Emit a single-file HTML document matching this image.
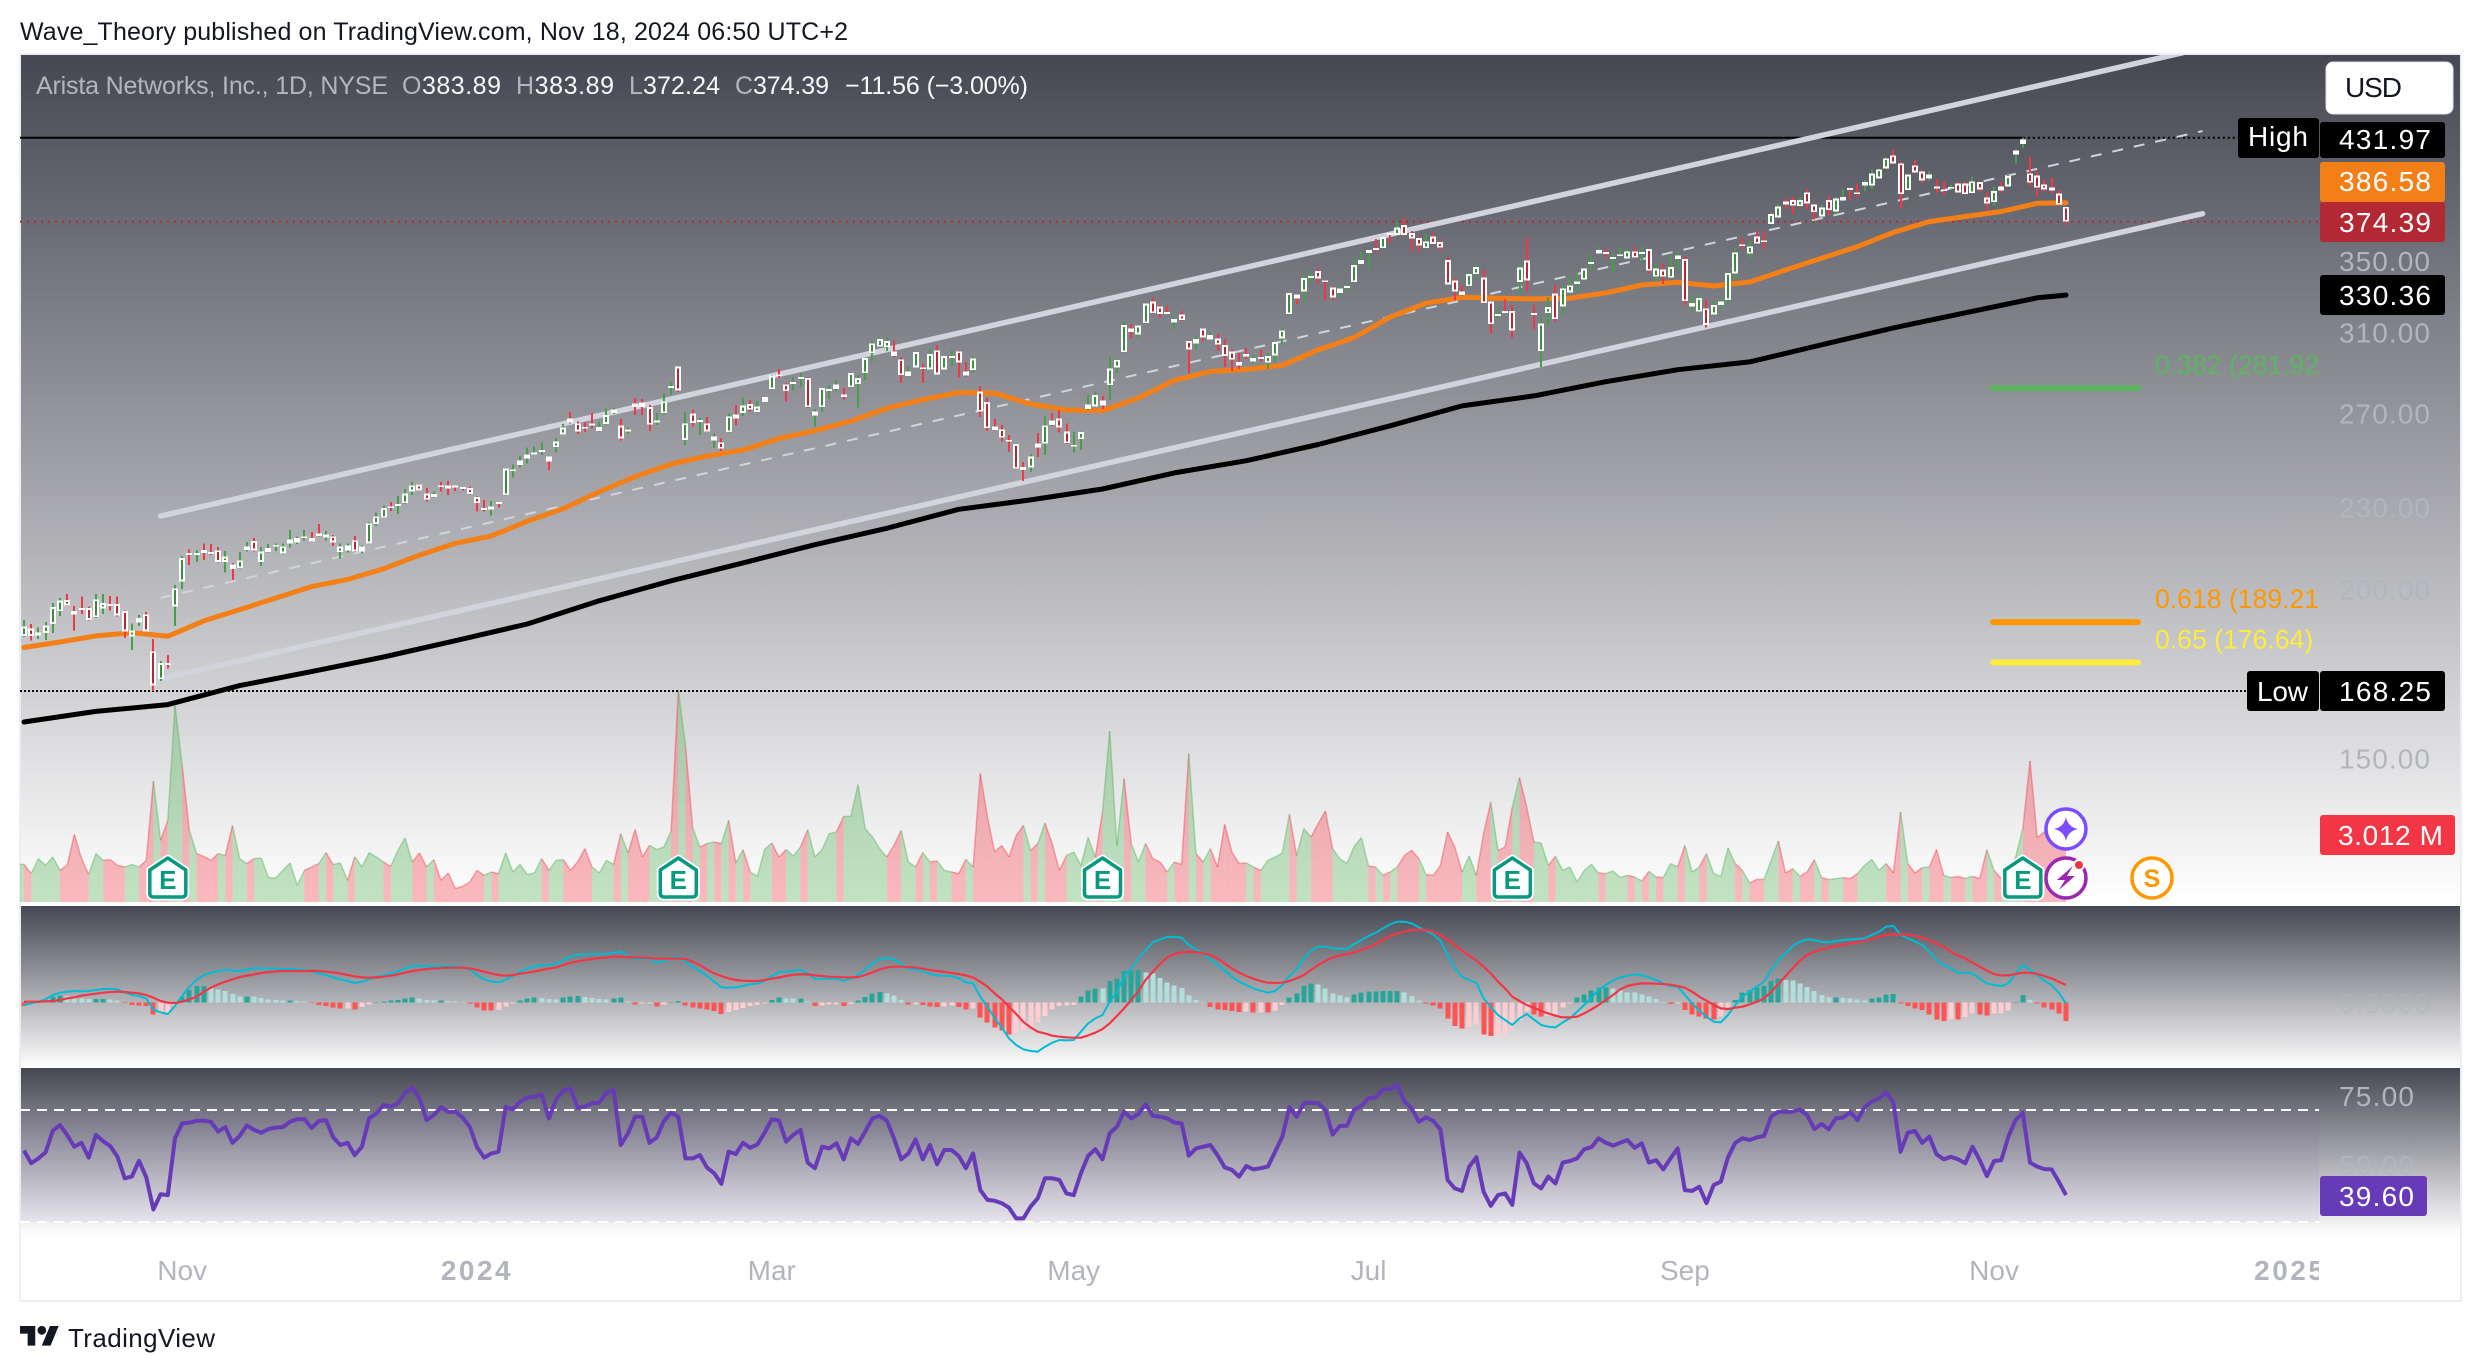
<!DOCTYPE html>
<html lang="en">
<head>
<meta charset="utf-8">
<title>Arista Networks chart by Wave_Theory</title>
<style>
html,body{margin:0;padding:0;background:#fff;width:2482px;height:1372px;overflow:hidden}
svg{display:block}
text{font-family:"Liberation Sans",sans-serif}
.ax{font-size:28px;fill:#b2b5be}
.lb{font-size:28px;fill:#fff}
.leg{font-size:25px}
.tm{font-size:28px;fill:#b2b5be}
.fib{font-size:26.6px}
</style>
</head>
<body>
<svg id="chart" xmlns="http://www.w3.org/2000/svg" width="2482" height="1372" viewBox="0 0 2482 1372">
<defs>
<linearGradient id="gp" x1="0" y1="0" x2="0" y2="1"><stop offset="0" stop-color="#454752"/><stop offset="1" stop-color="#ffffff"/></linearGradient>
<clipPath id="clipPrice"><rect x="20" y="55" width="2299" height="847"/></clipPath>
<clipPath id="clipMacd"><rect x="20" y="906" width="2299" height="162"/></clipPath>
<clipPath id="clipRsi"><rect x="20" y="1068" width="2299" height="168"/></clipPath>
<clipPath id="clipTime"><rect x="20" y="1240" width="2299" height="60"/></clipPath>
</defs>

<text x="20" y="40" font-size="25" fill="#131722" textLength="828" lengthAdjust="spacing">Wave_Theory published on TradingView.com, Nov 18, 2024 06:50 UTC+2</text>

<rect x="20" y="55" width="2441" height="847" fill="url(#gp)"/>
<rect x="20" y="906" width="2441" height="162" fill="url(#gp)"/>
<rect x="20" y="1068" width="2441" height="168" fill="url(#gp)"/>
<rect x="20" y="1110" width="2299" height="112" fill="rgba(126,87,194,0.08)"/>
<rect x="20" y="54" width="2441" height="1247" fill="none" stroke="#eceef4" stroke-width="2"/>

<g id="volumeLayer" clip-path="url(#clipPrice)"></g>
<g id="priceLayer" clip-path="url(#clipPrice)"></g>
<g id="macdLayer" clip-path="url(#clipMacd)"></g>
<g id="rsiLayer" clip-path="url(#clipRsi)"></g>
<g id="flagLayer"></g>

<g>
<text class="leg" x="36" y="94" fill="#b4b6be" textLength="352" lengthAdjust="spacing">Arista Networks, Inc., 1D, NYSE</text>
<text class="leg" x="402" y="94" fill="#f8f8f8" textLength="99" lengthAdjust="spacing"><tspan fill="#b4b6be">O</tspan>383.89</text>
<text class="leg" x="516" y="94" fill="#f8f8f8" textLength="98" lengthAdjust="spacing"><tspan fill="#b4b6be">H</tspan>383.89</text>
<text class="leg" x="629" y="94" fill="#f8f8f8" textLength="91" lengthAdjust="spacing"><tspan fill="#b4b6be">L</tspan>372.24</text>
<text class="leg" x="735" y="94" fill="#f8f8f8" textLength="94" lengthAdjust="spacing"><tspan fill="#b4b6be">C</tspan>374.39</text>
<text class="leg" x="845" y="94" fill="#f8f8f8" textLength="183" lengthAdjust="spacing">−11.56 (−3.00%)</text>
</g>

<g id="axisLayer"></g>

<g>
<rect x="2326" y="62" width="127" height="52" rx="7" fill="#ffffff" stroke="#e0e3eb"/>
<text x="2345" y="97" font-size="28" fill="#131722" textLength="57" lengthAdjust="spacing">USD</text>
</g>

<g>
<rect x="2238" y="118" width="81" height="40" rx="3" fill="#000"/>
<text class="lb" x="2248" y="146" textLength="60" lengthAdjust="spacing">High</text>
<rect x="2320" y="122" width="125" height="36" rx="3" fill="#000"/>
<text class="lb" x="2339" y="149" textLength="92" lengthAdjust="spacing">431.97</text>
</g>
<g>
<rect x="2320" y="162" width="125" height="40" rx="3" fill="#f57f17"/>
<text class="lb" x="2339" y="191" textLength="92" lengthAdjust="spacing">386.58</text>
</g>
<g>
<rect x="2320" y="202" width="125" height="40" rx="3" fill="#b22833"/>
<text class="lb" x="2339" y="232" textLength="92" lengthAdjust="spacing">374.39</text>
</g>
<g>
<rect x="2320" y="275" width="125" height="40" rx="3" fill="#000"/>
<text class="lb" x="2339" y="305" textLength="92" lengthAdjust="spacing">330.36</text>
</g>
<g>
<rect x="2247" y="671" width="72" height="40" rx="3" fill="#000"/>
<text class="lb" x="2257" y="701" textLength="51" lengthAdjust="spacing">Low</text>
<rect x="2320" y="671" width="125" height="40" rx="3" fill="#000"/>
<text class="lb" x="2339" y="701" textLength="92" lengthAdjust="spacing">168.25</text>
</g>
<g>
<rect x="2320" y="815" width="135" height="40" rx="3" fill="#f23645"/>
<text class="lb" x="2338" y="845" textLength="105" lengthAdjust="spacing">3.012 M</text>
</g>
<text class="ax" x="2339" y="1013" opacity="0.6" textLength="91" lengthAdjust="spacing">0.0000</text>
<text class="ax" x="2339" y="1106" textLength="75" lengthAdjust="spacing">75.00</text>
<text class="ax" x="2339" y="1175" textLength="75" lengthAdjust="spacing">50.00</text>
<g>
<rect x="2320" y="1176" width="107" height="40" rx="3" fill="#673ab7"/>
<text class="lb" x="2339" y="1206" textLength="75" lengthAdjust="spacing">39.60</text>
</g>

<g id="timeLayer" clip-path="url(#clipTime)"></g>

<g>
<path transform="translate(20,1321.6) scale(1.09)" fill="#131722" d="M14 22H7V11H0V4h14v18zM28 22h-8l7.5-18h8L28 22z"/>
<circle cx="41.8" cy="1330.3" r="4.4" fill="#131722"/>
<text x="68" y="1347" font-size="26" fill="#131722" textLength="147" lengthAdjust="spacing">TradingView</text>
</g>
</svg>

<script>
const opens = [184.8,187.1,185.0,185.8,188.6,192.8,196.4,192.8,193.8,193.8,190.8,193.7,195.1,195.1,192.8,184.7,189.1,191.7,180.0,171.7,176.4,194.3,202.8,212.8,212.3,213.9,213.2,213.8,209.7,208.7,207.4,213.9,217.2,209.6,213.3,215.3,212.7,216.4,216.7,218.5,218.3,220.1,218.5,219.0,213.2,213.8,217.5,213.4,216.4,223.7,226.1,230.5,230.8,231.7,236.4,239.2,235.5,234.1,238.9,238.9,238.8,238.1,237.7,234.1,229.8,229.3,232.2,234.9,245.0,247.4,250.0,252.0,253.1,250.8,254.9,260.6,267.8,265.5,263.9,265.4,262.1,265.2,270.1,264.5,262.1,274.6,275.1,273.0,266.1,270.1,282.2,292.5,258.1,269.9,266.3,265.5,257.9,257.0,261.5,269.5,270.2,274.3,270.7,275.3,281.4,288.6,283.7,284.1,286.5,286.7,269.0,272.9,280.8,281.6,278.9,282.4,283.8,289.2,299.2,302.6,302.3,300.1,296.1,287.7,292.1,292.1,291.0,300.7,291.1,297.2,300.1,290.0,290.7,280.3,275.3,264.0,262.8,258.1,256.2,246.5,246.3,256.5,256.5,266.8,267.7,261.8,255.3,258.4,272.0,273.2,276.0,283.3,292.1,299.7,312.0,309.0,314.9,326.7,324.0,320.9,315.3,319.6,305.4,304.3,312.0,306.2,306.8,303.3,300.0,294.8,298.8,295.1,297.2,294.4,298.1,306.8,319.8,330.8,332.5,340.4,344.1,338.8,334.6,331.4,334.6,337.7,348.2,354.8,357.8,357.8,367.1,366.1,372.2,367.1,364.0,357.8,365.0,361.5,350.6,338.6,332.4,335.4,342.3,340.4,326.7,319.0,321.4,321.4,337.9,350.4,320.3,300.2,320.3,331.2,324.1,331.8,336.7,339.1,348.6,354.5,355.5,351.7,353.3,351.7,355.9,354.7,357.2,340.9,345.0,340.3,351.2,351.2,324.0,321.2,323.0,319.6,324.7,327.5,342.7,360.2,354.5,364.9,362.6,372.9,377.2,387.6,388.3,384.4,393.6,385.4,377.7,388.3,380.9,388.1,396.5,393.6,398.1,398.3,403.1,410.0,419.2,413.5,395.0,412.1,407.7,402.9,397.6,395.6,396.3,399.5,399.5,393.0,400.4,390.1,387.0,397.4,397.6,419.7,427.2,406.5,404.9,399.0,396.9,392.7,383.89];
const highs = [189.9,188.6,187.5,189.3,195.4,197.1,198.5,194.5,197.6,194.3,198.5,198.5,197.8,197.6,193.0,188.8,191.5,192.5,183.9,177.0,178.9,201.5,211.8,214.2,214.0,216.4,216.2,215.1,213.5,209.2,213.2,216.8,218.4,215.0,216.1,216.4,216.4,221.4,218.9,221.4,220.6,223.7,221.0,219.5,216.4,216.3,219.1,215.7,224.2,228.1,230.9,232.2,234.5,237.3,240.2,239.4,237.7,236.4,240.2,240.7,238.8,238.1,238.4,234.3,233.0,232.5,232.2,245.8,247.6,251.4,254.7,255.2,257.0,250.8,258.9,265.2,270.7,266.3,266.0,270.1,266.3,272.4,272.7,267.5,263.6,277.3,276.7,274.0,270.1,279.2,284.9,292.6,270.7,271.6,268.0,268.4,260.9,258.9,269.9,274.0,277.3,276.2,275.9,277.6,288.3,291.3,284.3,287.2,289.2,287.2,272.1,281.9,283.5,285.9,281.9,289.2,288.3,296.7,305.5,307.4,307.4,305.5,297.2,292.8,299.7,293.8,301.2,303.4,297.8,300.9,300.2,294.8,297.8,283.0,277.4,267.5,264.8,260.2,256.2,248.6,252.0,261.2,268.7,270.1,271.6,265.5,261.8,261.8,278.6,280.4,278.1,297.2,296.1,315.8,314.4,313.8,326.2,329.1,324.9,324.3,318.5,321.6,305.7,308.5,312.4,310.1,309.2,306.4,301.2,299.4,301.9,298.3,301.2,299.2,305.0,312.2,331.8,331.0,341.9,344.1,345.9,339.0,335.2,335.6,337.1,351.4,355.4,356.8,363.4,364.6,367.1,374.3,376.8,368.6,365.0,366.5,367.1,363.4,352.4,340.2,336.0,343.5,348.8,344.9,326.7,323.2,328.2,324.7,349.6,364.2,324.7,317.8,329.1,336.0,336.1,340.5,342.9,345.8,353.7,358.6,357.2,354.7,357.8,357.2,358.6,358.8,357.6,348.2,348.2,353.7,355.7,353.1,330.3,330.4,328.0,326.7,329.1,344.2,357.8,364.1,362.0,368.3,368.3,380.5,385.9,389.6,390.3,390.3,395.6,386.3,385.2,391.2,390.3,395.6,396.5,399.2,402.0,409.3,410.0,417.8,423.0,414.7,405.8,415.9,408.8,408.1,402.4,401.3,398.5,400.4,400.4,404.0,401.0,393.6,397.2,400.6,405.4,423.5,431.97,418.0,407.7,402.0,403.8,395.2,383.89];
const lows = [184.4,183.4,183.9,183.5,185.8,191.2,194.5,186.5,191.9,189.7,190.6,191.9,193.0,191.0,184.1,180.4,188.0,186.0,168.25,171.1,174.8,188.0,200.2,208.6,209.7,210.4,212.1,209.4,205.9,203.3,207.3,213.4,213.4,208.2,213.0,213.6,212.3,214.8,216.2,217.4,216.9,218.9,217.4,215.5,210.9,213.0,213.3,212.6,216.2,222.9,225.9,228.6,227.5,231.4,235.0,236.5,232.4,234.0,236.4,235.0,236.6,236.8,235.1,228.5,228.5,226.9,230.0,234.7,242.1,246.2,247.9,251.6,251.6,245.2,252.6,260.3,265.5,260.7,261.6,263.1,261.8,264.9,269.8,257.8,260.7,269.3,269.3,262.1,264.8,269.3,278.7,280.0,255.9,264.0,260.3,261.6,254.6,253.3,261.3,264.5,268.9,270.8,270.4,275.1,281.3,286.9,275.6,280.6,282.5,272.6,264.0,270.7,276.7,280.3,276.4,281.9,272.7,285.9,295.3,302.4,300.4,297.3,284.5,287.5,292.0,284.5,290.8,288.5,291.0,293.1,287.0,287.3,289.4,268.4,262.1,262.2,257.3,252.9,245.6,240.6,244.4,250.7,251.6,264.3,261.3,256.4,252.6,253.8,271.6,272.9,272.0,276.3,289.2,299.5,306.7,307.4,314.7,320.1,317.8,319.9,311.8,316.2,289.1,301.2,305.4,305.9,300.4,292.3,290.3,291.3,296.3,294.1,295.0,291.3,295.1,303.5,319.6,325.5,326.2,338.1,336.9,327.3,327.3,329.5,332.7,337.5,348.0,344.9,355.0,357.6,361.3,365.5,365.9,356.2,355.8,357.6,360.1,356.2,336.3,327.3,329.9,335.2,340.4,325.5,309.4,317.1,320.3,307.3,331.0,332.4,311.5,292.3,313.6,315.8,320.1,331.6,332.3,338.7,345.2,354.1,352.3,343.2,352.1,351.5,351.7,350.1,342.9,337.8,336.7,339.9,344.8,324.9,321.6,320.8,312.7,319.4,322.7,324.5,339.6,357.4,351.4,360.4,357.4,372.7,377.0,382.6,379.4,384.1,382.2,375.9,377.4,378.7,379.4,387.9,388.5,390.3,394.5,395.8,402.9,409.5,413.3,382.8,394.8,406.5,399.7,401.3,393.2,391.9,395.6,393.2,392.1,392.7,393.8,382.0,384.6,393.4,397.4,413.0,424.5,397.9,390.5,393.8,392.5,385.0,372.24];
const closes = [187.8,184.8,185.9,188.1,194.1,196.3,194.7,191.7,193.3,189.9,196.7,195.4,194.6,191.4,186.2,186.5,190.6,186.2,169.9,176.4,175.8,200.4,211.0,212.3,212.8,212.8,212.7,209.6,211.6,207.1,210.2,215.2,213.8,213.4,214.6,215.8,215.3,217.8,218.3,219.0,217.1,219.1,219.7,216.7,215.2,215.6,213.4,215.2,223.9,226.6,229.8,230.1,231.3,235.5,238.9,236.8,233.1,235.4,238.4,237.6,238.2,237.6,235.4,231.7,229.3,230.5,231.7,245.8,245.5,249.3,251.7,252.6,253.7,248.8,257.3,263.6,265.8,261.9,263.3,264.8,263.9,269.3,271.8,258.8,262.7,273.0,272.9,264.9,266.7,275.6,282.9,280.8,265.5,265.7,266.9,261.9,259.7,254.3,268.7,267.8,273.6,271.8,273.2,277.6,288.0,288.0,280.5,284.8,287.2,272.9,270.8,281.9,281.4,283.7,277.6,289.2,286.7,296.7,304.3,306.4,305.4,297.7,288.2,290.0,299.7,291.5,298.7,288.6,297.7,297.8,294.6,288.0,296.5,270.8,263.3,262.5,259.1,257.5,245.8,245.3,250.8,254.7,264.6,264.8,263.7,256.7,255.9,261.6,274.1,278.6,273.8,291.5,295.8,313.8,310.1,313.6,325.6,320.3,319.9,320.1,317.1,316.5,301.1,306.4,307.4,308.5,303.6,297.8,295.9,293.1,297.5,296.8,296.5,297.7,304.9,311.1,331.4,328.4,340.0,341.2,339.8,338.1,329.1,334.1,335.4,347.6,350.6,356.8,357.0,364.6,366.3,370.7,366.1,363.8,359.6,362.0,360.5,358.2,336.5,332.5,330.3,342.3,346.4,325.8,314.4,319.8,320.7,311.1,346.2,338.8,319.6,314.7,323.6,317.1,334.2,335.9,338.2,345.6,349.4,356.7,354.7,352.5,354.1,355.9,352.1,355.5,344.4,345.6,340.9,346.4,353.5,326.9,326.0,328.6,314.0,324.7,326.7,342.9,355.3,359.4,359.0,360.6,361.8,379.2,384.1,385.4,384.8,388.3,386.3,380.5,383.5,381.8,389.4,390.3,395.6,392.3,400.6,406.3,409.3,417.1,413.5,392.3,405.6,407.2,401.7,405.8,396.3,394.7,397.2,393.6,392.3,401.0,395.6,386.3,394.3,394.7,404.7,422.8,430.8,400.1,396.7,395.6,394.7,385.4,374.39];
const volumes = [1.88,1.42,2.17,1.83,2.25,1.58,1.83,3.38,2.17,1.38,2.42,2.08,2.12,1.83,1.75,1.87,1.75,2.08,6.05,3.08,4.08,9.83,6.83,3.58,2.42,2.28,2.08,2.42,2.33,3.83,2.17,1.92,2.17,2.20,1.22,1.20,1.58,1.95,0.83,1.58,1.75,1.92,2.47,1.87,1.95,1.08,2.25,1.75,2.47,2.25,2.00,1.78,2.58,3.20,2.00,2.45,1.75,2.12,1.08,1.45,0.67,0.78,1.00,1.58,1.33,1.50,1.42,2.45,1.50,1.88,1.37,1.45,2.17,1.58,2.08,2.12,1.58,2.00,2.67,1.75,1.45,2.08,1.88,3.42,2.45,3.62,2.25,2.83,2.62,2.75,3.55,10.58,7.83,3.72,2.75,2.92,3.00,2.92,4.08,1.95,2.62,1.50,1.28,2.62,2.95,2.25,2.62,2.30,2.75,3.62,2.25,2.62,3.42,3.50,4.28,4.28,5.87,3.67,3.25,2.67,2.25,2.83,3.58,2.00,1.75,2.47,2.00,2.05,1.58,1.50,1.42,2.13,1.75,6.42,4.25,2.50,2.83,2.25,3.33,3.83,2.58,2.92,3.95,2.92,1.58,2.33,2.50,1.83,3.22,2.25,4.50,8.55,2.83,6.17,2.92,2.00,2.92,2.17,2.00,1.50,2.00,1.88,7.42,2.42,2.00,2.67,1.75,3.88,2.50,1.92,1.95,1.75,1.58,2.08,2.25,2.45,4.38,2.33,3.67,3.25,3.92,4.55,2.67,2.17,1.92,2.78,3.22,1.80,1.75,1.33,1.50,1.75,2.33,2.58,2.17,1.37,1.33,1.83,3.50,2.75,1.50,2.30,1.33,3.42,5.00,2.58,2.75,4.75,6.22,4.75,3.00,2.95,1.83,2.28,1.58,1.75,1.00,1.58,1.88,1.45,1.42,1.55,1.22,1.33,1.25,1.05,1.53,1.25,1.22,1.92,1.75,2.83,1.50,1.75,2.42,1.42,1.28,2.70,1.92,1.58,0.95,1.13,1.13,2.08,3.05,1.45,1.67,1.28,1.50,2.12,1.22,1.12,1.17,1.22,1.17,1.42,1.83,2.13,1.58,1.92,1.45,4.50,1.92,1.45,1.72,1.75,2.62,1.33,1.22,1.28,1.17,1.28,1.17,2.62,1.58,1.17,1.42,2.25,3.67,7.05,3.22,3.50,3.67,3.42,3.01];
const rsiValues = [55.5,51.0,52.7,54.9,62.6,64.6,61.1,56.9,58.3,53.0,61.1,58.9,57.1,53.3,45.6,46.2,51.9,46.0,34.5,39.9,39.6,59.9,65.2,65.5,66.1,66.2,65.8,62.3,63.9,58.3,60.8,64.5,62.9,61.9,63.2,63.7,63.9,65.8,66.7,66.8,63.6,66.1,66.4,60.2,57.5,58.3,53.9,56.9,67.0,68.8,71.8,71.2,72.4,76.2,78.0,74.2,66.4,68.2,71.0,69.4,69.4,67.3,64.0,56.7,53.0,54.5,55.1,71.2,70.2,73.0,74.5,74.8,75.6,67.0,73.8,76.9,77.7,70.8,71.2,72.4,72.6,76.2,77.1,57.5,61.7,67.6,67.6,58.3,60.2,66.1,69.0,67.6,52.7,52.7,53.9,49.4,47.4,43.6,55.1,54.3,58.3,56.5,57.7,61.9,66.7,66.2,58.7,61.1,62.9,51.2,49.2,56.9,56.3,58.1,52.4,59.9,57.9,62.3,67.0,67.9,66.2,59.9,52.4,54.5,59.5,52.4,57.5,50.6,55.7,55.7,53.6,49.2,54.5,41.4,37.9,37.6,36.7,35.1,31.3,31.3,35.5,38.5,45.6,45.6,45.0,40.2,39.6,47.4,53.6,56.0,52.4,61.7,64.0,69.4,67.0,68.6,72.1,67.9,67.6,67.0,65.5,65.2,53.7,56.3,56.9,57.5,53.9,49.5,48.6,46.2,50.0,48.8,49.2,49.8,55.1,60.5,71.0,67.6,72.4,72.6,72.4,70.0,61.3,64.3,64.4,70.2,71.4,74.2,74.5,77.4,77.5,78.9,73.0,70.6,65.8,67.4,66.1,63.1,45.0,42.0,41.1,49.8,53.1,40.8,35.8,39.6,40.2,36.1,54.8,51.0,43.8,42.0,46.2,43.8,51.2,51.8,52.7,56.0,56.7,59.9,58.3,57.3,58.3,59.3,56.5,58.1,51.2,52.1,48.8,52.7,56.3,41.4,41.1,42.6,36.7,43.2,44.4,53.1,58.3,59.9,59.3,60.2,60.7,67.6,69.4,69.4,69.4,70.2,68.2,63.2,65.0,63.1,67.0,67.3,69.2,66.4,71.0,73.0,74.2,76.4,72.6,55.1,61.9,62.5,58.3,60.5,54.2,52.4,53.3,52.4,51.0,56.9,52.1,46.4,51.8,52.1,60.5,66.4,69.0,51.2,49.8,48.9,48.8,44.4,39.6];
const macdLine = [-0.7,-0.2,0.3,1.0,2.3,3.0,3.3,3.5,3.4,3.5,3.8,4.1,4.2,4.0,3.1,2.3,2.0,1.3,-2.0,-2.9,-3.4,-1.0,2.1,4.8,6.8,8.3,9.0,9.5,9.8,9.6,9.5,10.0,10.3,10.3,10.2,10.2,10.1,10.1,10.0,9.8,9.4,8.8,8.3,7.6,7.0,6.5,5.9,6.3,7.0,7.8,8.2,8.8,9.3,10.3,11.0,11.1,10.9,10.9,11.0,11.0,10.9,10.5,10.0,8.3,7.0,6.4,6.1,7.0,8.0,9.3,10.3,11.0,11.2,11.3,11.6,12.8,13.8,14.4,14.5,14.5,14.5,14.6,15.0,15.3,14.1,13.1,13.2,13.2,12.0,12.6,13.3,13.8,12.3,10.8,9.5,8.0,6.3,4.6,4.5,4.6,5.0,5.5,5.8,6.5,8.0,9.2,9.3,9.6,9.8,8.8,7.2,7.2,7.2,7.2,6.6,7.2,8.3,10.0,11.8,13.2,13.4,13.0,11.6,10.2,10.0,9.5,8.6,8.2,8.1,8.0,7.3,6.1,5.8,1.8,-1.2,-4.7,-7.4,-10.7,-12.7,-14.0,-14.5,-14.7,-13.2,-12.0,-11.2,-11.3,-11.2,-8.7,-6.2,-4.7,-3.7,0.3,3.3,7.8,10.3,13.3,15.8,18.1,19.0,19.7,19.8,19.5,17.3,16.0,14.8,13.0,11.3,9.6,7.8,6.3,5.3,4.3,3.6,3.0,3.5,5.3,8.0,10.0,13.3,15.6,16.8,16.8,16.3,16.2,16.1,17.6,18.8,20.0,21.0,22.3,23.5,24.3,24.3,23.8,22.6,21.5,20.5,18.6,14.3,10.3,7.8,6.8,6.0,1.3,-1.2,-3.7,-5.2,-6.7,-4.7,-3.4,-5.0,-6.7,-7.2,-7.4,-5.9,-4.7,-2.7,-0.7,1.6,3.8,5.3,6.6,7.6,8.1,8.5,8.3,7.6,6.8,5.8,5.0,4.8,2.3,-0.2,-2.4,-4.2,-5.7,-5.9,-3.7,-0.7,1.8,3.3,4.8,6.3,9.8,12.8,14.8,17.0,18.3,19.0,18.8,18.3,18.1,18.5,18.8,19.0,19.1,19.3,20.3,21.3,22.8,23.1,20.3,19.3,18.3,17.3,15.3,12.8,11.3,10.3,9.0,9.0,8.8,7.3,5.8,5.3,5.0,5.8,8.8,11.3,9.8,8.3,6.6,5.3,3.0,-0.2];
const signalLine = [0.3,0.3,0.3,0.4,0.5,0.8,1.3,1.6,2.1,2.4,2.7,3.0,3.2,3.3,3.2,3.0,2.8,2.3,1.5,0.5,0,-0.1,0.3,1.0,1.8,3.3,4.5,5.5,6.3,7.0,7.7,8.1,8.5,8.9,9.2,9.4,9.5,9.5,9.5,9.5,9.5,9.5,9.3,9.1,8.8,8.3,7.9,7.6,7.5,7.6,7.8,8.1,8.5,9.0,9.5,9.8,10.1,10.3,10.4,10.5,10.5,10.5,10.3,9.8,9.3,8.8,8.3,8.1,8.3,8.7,9.0,9.4,9.8,10.2,10.6,11.3,12.0,12.4,12.8,13.1,13.4,13.6,13.8,13.8,13.7,13.6,13.5,13.4,13.2,13.2,13.2,13.3,13.1,12.3,11.3,10.0,8.8,8.0,7.3,6.8,6.6,6.5,6.5,6.8,7.2,7.6,8.0,8.4,8.5,8.5,8.2,8.0,7.8,7.7,7.6,7.6,7.7,8.3,9.1,10.0,10.6,10.8,10.8,10.7,10.5,10.2,9.8,9.5,9.2,8.9,8.6,8.2,7.6,6.3,4.8,2.8,1.0,-1.2,-3.4,-5.8,-7.4,-8.7,-9.2,-9.9,-10.2,-10.4,-10.5,-10.5,-9.8,-9.0,-7.9,-6.2,-4.0,-1.7,0.8,3.5,6.8,9.3,11.6,13.6,14.6,15.1,15.2,15.2,14.8,14.3,13.3,11.8,10.3,9.1,8.0,7.2,6.5,6.0,5.9,6.0,6.5,7.3,8.3,9.8,11.3,12.5,13.6,14.1,14.6,15.1,15.8,16.6,17.6,18.8,20.0,20.8,21.3,21.8,21.9,21.8,21.3,20.3,19.0,17.3,15.6,14.1,12.6,10.8,8.8,6.3,4.3,1.8,0.5,-0.7,-1.5,-2.5,-3.2,-3.9,-4.4,-4.4,-4.2,-3.2,-2.0,-0.7,0.8,2.3,4.0,5.0,5.5,5.8,5.8,5.7,5.6,5.4,5.0,4.5,3.3,1.8,0.6,-0.7,-1.7,-1.9,-1.5,-1.2,-0.5,0.3,1.3,3.3,5.6,8.0,10.3,12.6,14.3,15.3,16.0,16.6,17.0,17.4,17.8,18.1,18.6,19.1,19.8,20.3,20.5,20.5,20.3,20.1,19.5,18.8,17.8,16.8,15.3,14.1,13.3,12.0,10.8,9.6,8.6,8.2,8.2,8.6,9.0,9.0,8.6,8.0,7.3,6.3,5.3];
const histogram = [-1.0,-0.5,0.0,0.6,1.8,2.2,2.0,1.9,1.3,1.1,1.1,1.1,1.0,0.7,-0.1,-0.7,-0.8,-1.0,-3.5,-3.4,-3.4,-0.9,1.8,3.8,5.0,5.0,4.5,4.0,3.5,2.6,1.8,1.9,1.8,1.4,1.0,0.8,0.6,0.6,0.5,0.3,-0.1,-0.7,-1.0,-1.5,-1.8,-1.8,-2.0,-1.3,-0.5,0.2,0.4,0.7,0.8,1.3,1.5,1.3,0.8,0.6,0.6,0.5,0.4,0,-0.3,-1.5,-2.3,-2.4,-2.2,-1.1,-0.3,0.6,1.3,1.6,1.4,1.1,1.0,1.5,1.8,2.0,1.7,1.4,1.1,1.0,1.2,1.5,0.4,-0.5,-0.3,-0.2,-1.2,-0.6,0.1,0.5,-0.8,-1.5,-1.8,-2.0,-2.5,-3.4,-2.8,-2.2,-1.6,-1.0,-0.7,-0.3,0.8,1.6,1.3,1.2,1.3,0.3,-1.0,-0.8,-0.6,-0.5,-1.0,-0.4,0.6,1.7,2.7,3.2,2.8,2.2,0.8,-0.5,-0.5,-0.7,-1.2,-1.3,-1.1,-0.9,-1.3,-2.1,-1.8,-4.5,-6.0,-7.5,-8.4,-9.5,-9.3,-8.2,-7.1,-6.0,-4.0,-2.1,-1.0,-0.9,-0.7,1.8,3.6,4.3,4.2,6.5,7.3,9.5,9.5,9.8,9.0,8.8,7.4,6.1,5.2,4.4,2.1,0.8,0,-1.3,-2.0,-2.2,-2.5,-2.8,-2.7,-2.9,-2.9,-3.0,-2.4,-0.7,1.5,2.7,5.0,5.8,5.5,4.3,2.7,2.1,1.5,2.5,3.0,3.4,3.4,3.5,3.5,3.5,3.0,2.0,0.7,-0.3,-0.8,-1.7,-4.7,-7.0,-7.8,-7.3,-6.6,-9.5,-10.0,-10.0,-9.5,-8.5,-5.2,-2.7,-3.5,-4.2,-4.0,-3.5,-1.5,-0.3,1.5,2.5,3.6,4.5,4.5,4.3,3.6,3.1,3.0,2.5,1.8,1.1,0.2,-0.4,-0.2,-2.2,-3.5,-4.2,-4.8,-5.0,-4.2,-1.8,0.8,3.0,3.8,4.5,5.0,6.5,7.2,6.8,6.7,5.7,4.7,3.5,2.3,1.5,1.5,1.4,1.2,1.0,0.7,1.2,1.5,2.5,2.6,-0.2,-1.0,-1.8,-2.2,-3.5,-5.0,-5.5,-5.0,-5.1,-4.3,-3.2,-3.5,-3.8,-3.3,-3.2,-2.4,0.2,2.3,0.8,-0.3,-1.4,-2.0,-3.3,-5.5];
const emaBars = [1,6,11,16,21,26,31,36,41,46,51,56,61,66,71,76,81,86,91,96,101,106,111,116,121,126,131,136,141,146,151,156,161,166,171,176,181,186,191,196,201,206,211,216,221,226,231,236,241,246,251,256,261,266,271,276,281,285];
const emaValues = [181.2,182.9,184.8,185.8,184.7,189.6,193.3,197.1,201.0,203.5,207.2,212.1,216.4,219.1,224.7,229.6,236.3,242.4,247.7,251.1,253.7,258.7,262.2,266.5,272.4,276.4,279.8,279.5,274.4,271.6,271.3,277.2,285.7,290.0,291.0,293.1,300.9,307.3,318.2,325.8,329.1,328.6,328.2,328.6,331.6,336.1,337.6,335.5,337.8,344.8,351.7,358.8,367.6,374.4,377.7,380.9,386.3,386.58];
const maBars = [1,11,21,31,41,51,61,71,81,91,101,111,121,131,141,151,161,171,181,191,201,211,221,231,241,251,261,271,281,285];
const maValues = [159.6,162.5,164.4,169.8,173.9,178.3,183.3,188.6,196.2,203.0,209.3,215.9,222.0,229.3,233.0,237.4,244.0,249.1,256.1,264.4,273.5,278.2,285.0,290.9,294.8,303.5,312.4,320.5,328.8,330.36];
const channelBars = [20,304];
const channelUpper = [226.7,503.2];
const channelMiddle = [197.2,436.9];
const channelLower = [171.8,379.5];
const fibLabels = ["0.382 (281.92)","0.618 (189.21)","0.65 (176.64)"];
const fibPrices = [281.92,189.21,176.64];
const fibColors = ["#5cb660","#ff9800","#ffeb3b"];
const fibBars = [275,295];
const priceTicks = [350,310,270,230,200,150];
const timeTickLabels = ["Nov","2024","Mar","May","Jul","Sep","Nov","2025"];
const timeTickBars = [23,64,105,147,188,232,275,316.2];
const earningsBars = [21,92,151,208,279];
const priceHigh = 431.97;
const priceLow = 168.25;
const lastClose = 374.39;
const rsiLevels = [70,30];

const SVGNS = 'http://www.w3.org/2000/svg';
function make(tag, attrs) {
  const e = document.createElementNS(SVGNS, tag);
  for (const k in attrs) e.setAttribute(k, attrs[k]);
  return e;
}
const barX = bar => 24 + (bar - 1) * 7.19;
const priceY = p => 137.7 + Math.log(priceHigh / p) * 586.8;
const volY = v => 902 - v * 20;
const macdY = v => 1002.7 - v * 10 / 3;
const rsiY = v => 1110 + (70 - v) * 2.8;
const pts = (xs, ys) => xs.map((x, i) => x.toFixed(1) + ',' + ys[i].toFixed(1)).join(' ');

const volumeLayer = document.getElementById('volumeLayer');
const priceLayer = document.getElementById('priceLayer');
const macdLayer = document.getElementById('macdLayer');
const rsiLayer = document.getElementById('rsiLayer');
const flagLayer = document.getElementById('flagLayer');
const axisLayer = document.getElementById('axisLayer');
const timeLayer = document.getElementById('timeLayer');

/* volume area */
volumes.forEach((v, i) => {
  const up = closes[i] >= opens[i];
  const x1 = i === 0 ? 20 : barX(i);
  const y1 = i === 0 ? volY(v) : volY(volumes[i - 1]);
  const x2 = barX(i + 1);
  const y2 = volY(v);
  const area = make('polygon', {
    points: pts([x1, x2, x2, x1], [y1, y2, 902, 902]),
    fill: up ? 'rgba(76,175,80,0.35)' : 'rgba(242,54,69,0.35)'
  });
  
  
  volumeLayer.appendChild(area);
  const edge = make('line', {
    x1: x1, y1: y1, x2: x2, y2: y2,
    stroke: up ? 'rgba(76,175,80,0.4)' : 'rgba(242,54,69,0.4)',
    'stroke-width': 1.5
  });
  
  
  volumeLayer.appendChild(edge);
});

/* high / low / last price lines */
const highY = priceY(priceHigh);
const highSolid = make('line', {x1: 20, y1: highY, x2: barX(279), y2: highY, stroke: '#000', 'stroke-width': 2});


priceLayer.appendChild(highSolid);
const highDots = make('line', {x1: barX(279), y1: highY, x2: 2238, y2: highY, stroke: '#000', 'stroke-width': 2, 'stroke-dasharray': '2 3'});


priceLayer.appendChild(highDots);
const lowLine = make('line', {x1: 20, y1: priceY(priceLow), x2: 2247, y2: priceY(priceLow), stroke: '#000', 'stroke-width': 2, 'stroke-dasharray': '2 2'});


priceLayer.appendChild(lowLine);
const lastLine = make('line', {x1: 20, y1: priceY(lastClose), x2: 2319, y2: priceY(lastClose), stroke: '#b22833', 'stroke-width': 2, 'stroke-dasharray': '2 5'});


priceLayer.appendChild(lastLine);

/* parallel channel */
const upperLine = make('line', {x1: barX(channelBars[0]), y1: priceY(channelUpper[0]), x2: barX(channelBars[1]), y2: priceY(channelUpper[1]), stroke: '#d1d4dc', 'stroke-width': 5.5, 'stroke-linecap': 'round'});


priceLayer.appendChild(upperLine);
const middleLine = make('line', {x1: barX(channelBars[0]), y1: priceY(channelMiddle[0]), x2: barX(channelBars[1]), y2: priceY(channelMiddle[1]), stroke: '#d1d4dc', 'stroke-width': 2, 'stroke-dasharray': '11 11'});


priceLayer.appendChild(middleLine);
const lowerLine = make('line', {x1: barX(channelBars[0]), y1: priceY(channelLower[0]), x2: barX(channelBars[1]), y2: priceY(channelLower[1]), stroke: '#d1d4dc', 'stroke-width': 5.5, 'stroke-linecap': 'round'});


priceLayer.appendChild(lowerLine);

/* moving averages */
const maLine = make('polyline', {points: pts(maBars.map(barX), maValues.map(priceY)), fill: 'none', stroke: '#000', 'stroke-width': 5, 'stroke-linejoin': 'round', 'stroke-linecap': 'round'});


priceLayer.appendChild(maLine);
const emaLine = make('polyline', {points: pts(emaBars.map(barX), emaValues.map(priceY)), fill: 'none', stroke: '#f57f17', 'stroke-width': 5, 'stroke-linejoin': 'round', 'stroke-linecap': 'round'});


priceLayer.appendChild(emaLine);

/* fibonacci levels */
fibPrices.forEach((p, i) => {
  const bar = make('line', {x1: barX(fibBars[0]) - 1, y1: priceY(p), x2: barX(fibBars[1]), y2: priceY(p), stroke: fibColors[i], 'stroke-width': 6, 'stroke-linecap': 'round'});
  
  
  priceLayer.appendChild(bar);
  const label = make('text', {x: 2155, y: priceY(p) - 14, 'class': 'fib', fill: fibColors[i]});
  
  
  label.textContent = fibLabels[i];
  priceLayer.appendChild(label);
});

/* candles */
opens.forEach((o, i) => {
  const c = closes[i];
  const up = c >= o;
  const x = Math.round(barX(i + 1));
  const top = Math.min(priceY(o), priceY(c));
  const bottom = Math.max(priceY(o), priceY(c));
  const h = Math.max(bottom - top, 1.8);
  const g = make('g', {'shape-rendering': 'crispEdges'});
  
  
  const wick = make('rect', {x: x - 1, y: priceY(highs[i]), width: 2, height: Math.max(priceY(lows[i]) - priceY(highs[i]), 1), fill: up ? '#43a047' : '#f23645'});
  
  
  g.appendChild(wick);
  const body = make('rect', {x: x - 3, y: top, width: 6, height: h, fill: '#ffffff'});
  
  
  g.appendChild(body);
  if (h >= 5) {
    const core = make('rect', {x: x - 1, y: top + 1.8, width: 2, height: h - 3.6, fill: up ? '#388e3c' : '#b22833'});
    
    
    g.appendChild(core);
  }
  priceLayer.appendChild(g);
});

/* price axis ticks */
priceTicks.forEach(t => {
  const label = make('text', {x: 2339, y: priceY(t) + 10, 'class': 'ax', textLength: 91, lengthAdjust: 'spacing'});
  
  
  label.textContent = t.toFixed(2);
  axisLayer.appendChild(label);
});

/* macd */
histogram.forEach((v, i) => {
  const prev = i > 0 ? histogram[i - 1] : 0;
  const color = v >= 0 ? (v >= prev ? '#26a69a' : '#b2dfdb') : (v < prev ? '#ff5252' : '#ffcdd2');
  const y0 = macdY(0);
  const y1 = macdY(v);
  const bar = make('rect', {x: Math.round(barX(i + 1)) - 2.5, y: Math.min(y0, y1), width: 5, height: Math.max(Math.abs(y1 - y0), 0.5), fill: color, 'shape-rendering': 'crispEdges'});
  
  
  macdLayer.appendChild(bar);
});
const barXs = opens.map((o, i) => barX(i + 1));
const macdPath = make('polyline', {points: pts(barXs, macdLine.map(macdY)), fill: 'none', stroke: '#00bcd4', 'stroke-width': 2, 'stroke-linejoin': 'round'});


macdLayer.appendChild(macdPath);
const signalPath = make('polyline', {points: pts(barXs, signalLine.map(macdY)), fill: 'none', stroke: '#f23645', 'stroke-width': 2.2, 'stroke-linejoin': 'round'});


macdLayer.appendChild(signalPath);

/* rsi */
rsiLevels.forEach(l => {
  const level = make('line', {x1: 20, y1: rsiY(l), x2: 2319, y2: rsiY(l), stroke: '#ffffff', 'stroke-width': 2, 'stroke-dasharray': '10 7'});
  
  
  rsiLayer.appendChild(level);
});
const rsiPath = make('polyline', {points: pts(barXs, rsiValues.map(rsiY)), fill: 'none', stroke: '#673ab7', 'stroke-width': 4, 'stroke-linejoin': 'round'});


rsiLayer.appendChild(rsiPath);

/* earnings flags */
earningsBars.forEach(b => {
  const x = barX(b);
  const d = 'M' + x + ' 858 L' + (x + 18) + ' 870 L' + (x + 18) + ' 893 Q' + (x + 18) + ' 897 ' + (x + 14) + ' 897 L' + (x - 14) + ' 897 Q' + (x - 18) + ' 897 ' + (x - 18) + ' 893 L' + (x - 18) + ' 870 Z';
  const halo = make('path', {d: d, fill: '#ffffff', stroke: '#ffffff', 'stroke-width': 7, 'stroke-linejoin': 'round'});
  
  
  flagLayer.appendChild(halo);
  const flag = make('path', {d: d, fill: '#ffffff', stroke: '#089981', 'stroke-width': 3.5, 'stroke-linejoin': 'round'});
  
  
  flagLayer.appendChild(flag);
  const letter = make('text', {x: x, y: 889, 'text-anchor': 'middle', 'font-size': 26, 'font-weight': 'bold', fill: '#089981'});
  
  
  letter.textContent = 'E';
  flagLayer.appendChild(letter);
});

/* news, dividend and split markers */
const lastX = barX(285);
const starCircle = make('circle', {cx: lastX, cy: 829, r: 20, fill: '#ffffff', stroke: '#7c4dff', 'stroke-width': 3.5});


flagLayer.appendChild(starCircle);
const star = make('path', {d: 'M' + lastX + ' 817 Q' + (lastX + 2) + ' 827 ' + (lastX + 12) + ' 829 Q' + (lastX + 2) + ' 831 ' + lastX + ' 841 Q' + (lastX - 2) + ' 831 ' + (lastX - 12) + ' 829 Q' + (lastX - 2) + ' 827 ' + lastX + ' 817 Z', fill: '#7c4dff'});


flagLayer.appendChild(star);
const boltCircle = make('circle', {cx: lastX, cy: 878, r: 20, fill: '#ffffff', stroke: '#9c27b0', 'stroke-width': 3.5});


flagLayer.appendChild(boltCircle);
const bolt = make('path', {d: 'M' + (lastX + 7) + ' 866 L' + (lastX - 9) + ' 880 L' + (lastX - 1) + ' 880 L' + (lastX - 7) + ' 890 L' + (lastX + 9) + ' 876 L' + (lastX + 1) + ' 876 Z', fill: '#9c27b0'});


flagLayer.appendChild(bolt);
const newsDot = make('circle', {cx: lastX + 13, cy: 865, r: 5, fill: '#f23645', stroke: '#ffffff', 'stroke-width': 2});


flagLayer.appendChild(newsDot);
const splitCircle = make('circle', {cx: 2152, cy: 878, r: 20, fill: '#ffffff', stroke: '#ff9800', 'stroke-width': 3.5});


flagLayer.appendChild(splitCircle);
const splitLetter = make('text', {x: 2152, y: 887, 'text-anchor': 'middle', 'font-size': 25, 'font-weight': 'bold', fill: '#ff9800'});


splitLetter.textContent = 'S';
flagLayer.appendChild(splitLetter);

/* time axis */
timeTickLabels.forEach((t, i) => {
  const isYear = /^\d+$/.test(t);
  const label = make('text', {x: barX(timeTickBars[i]), y: 1280, 'text-anchor': 'middle', 'class': 'tm', 'font-weight': isYear ? 'bold' : 'normal', 'letter-spacing': isYear ? 2.5 : 0});
  
  
  label.textContent = t;
  timeLayer.appendChild(label);
});
</script>
</body>
</html>
